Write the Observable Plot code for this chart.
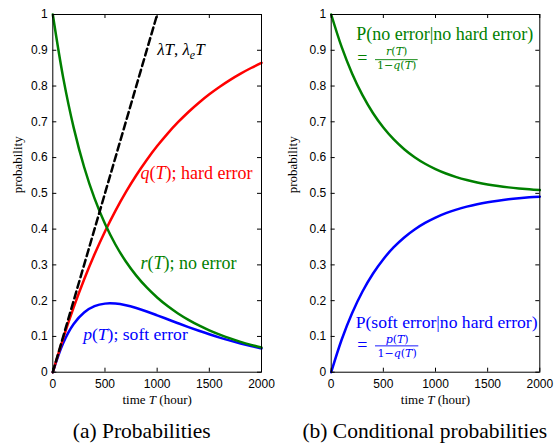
<!DOCTYPE html>
<html><head><meta charset="utf-8">
<script src="https://cdn.jsdelivr.net/npm/d3@7"></script>
<script src="https://cdn.jsdelivr.net/npm/@observablehq/plot@0.6"></script>
<style>
body{margin:0;background:#fff;}
#wrap{position:relative;width:555px;height:446px;overflow:hidden;background:#fff;}
.panel{position:absolute;top:0;}
.cap{position:absolute;top:421px;width:300px;text-align:center;font-family:"Liberation Serif","Times New Roman",serif;font-size:21.5px;line-height:21.5px;color:#000;white-space:nowrap;}
</style></head><body>
<div id="wrap">
  <div id="pa" class="panel" style="left:0"></div>
  <div id="pb" class="panel" style="left:275px"></div>
  <div class="cap" style="left:-8.3px">(a) Probabilities</div>
  <div class="cap" style="left:274.8px">(b) Conditional probabilities</div>
</div>
<script>
// time T (hour)
const hours = [0,100,200,300,400,500,600,700,800,900,1000,1100,1200,1300,1400,1500,1600,1700,1800,1900,2000];
// (a) probabilities
const rNoError   = [1,0.8228,0.6838,0.5737,0.4858,0.4148,0.3570,0.3095,0.2700,0.2369,0.2089,0.1849,0.1643,0.1464,0.1308,0.1171,0.1051,0.0944,0.0849,0.0765,0.0689];
const qHardError = [0,0.0952,0.1813,0.2592,0.3297,0.3935,0.4512,0.5034,0.5507,0.5934,0.6321,0.6671,0.6988,0.7275,0.7534,0.7769,0.7981,0.8173,0.8347,0.8504,0.8647];
const pSoftError = [0,0.0820,0.1349,0.1671,0.1845,0.1917,0.1918,0.1871,0.1793,0.1697,0.1590,0.1480,0.1369,0.1261,0.1158,0.1060,0.0968,0.0883,0.0804,0.0731,0.0664];
const lambdaHours = [0,1000];
const lambdaT     = [0,1];
// (b) conditional probabilities
const condNoError   = [1,0.9094,0.8352,0.7744,0.7247,0.6840,0.6506,0.6233,0.6010,0.5827,0.5677,0.5554,0.5454,0.5372,0.5304,0.5249,0.5204,0.5167,0.5137,0.5112,0.5092];
const condSoftError = [0,0.0906,0.1648,0.2256,0.2753,0.3160,0.3494,0.3767,0.3990,0.4173,0.4323,0.4446,0.4546,0.4628,0.4696,0.4751,0.4796,0.4833,0.4863,0.4888,0.4908];
// ticks
const xTicks = [0,500,1000,1500,2000];
const xTickLabels = ["0","500","1000","1500","2000"];
const yTicks = [0,0.1,0.2,0.3,0.4,0.5,0.6,0.7,0.8,0.9,1];
const yTickLabels = ["0","0.1","0.2","0.3","0.4","0.5","0.6","0.7","0.8","0.9","1"];

const GREEN = "#008000", RED = "#ff0000", BLUE = "#0000ff";
const SERIF = "Liberation Serif, Times New Roman, serif";
const WIDESERIF = "DejaVu Serif, serif";
const SANS = "Liberation Sans, Arial, Helvetica, sans-serif";

const zip = (xs, ys) => xs.map((t, i) => ({t, v: ys[i]}));

function addRich(svg, items) {
  d3.select(svg).selectAll("text").each(function() {
    const el = this;
    const txt = el.textContent;
    const it = items.find(a => a.parts.map(p => p[0]).join("") === txt);
    if (!it || el.querySelector("tspan")) return;
    el.textContent = "";
    let shifted = 0;
    for (const [s, st] of it.parts) {
      const ts = document.createElementNS("http://www.w3.org/2000/svg", "tspan");
      ts.textContent = s;
      if (st === "i") ts.setAttribute("font-style", "italic");
      if (st === "sub") {
        ts.setAttribute("font-style", "italic");
        ts.setAttribute("font-size", "70%");
        ts.setAttribute("dy", "4");
        shifted = 4;
      } else if (shifted) {
        ts.setAttribute("dy", String(-shifted));
        shifted = 0;
      }
      el.appendChild(ts);
    }
  });
}

function panel({width, marginLeft, marginRight, lines, notes, bars = []}) {
  const height = 410, marginTop = 14, marginBottom = 38.3;
  const innerW = width - marginLeft - marginRight;
  const innerH = height - marginTop - marginBottom;
  const xLabel = {parts: [["time "], ["T", "i"], [" (hour)"]]};
  const yLabel = {parts: [["probability"]]};
  const joined = a => a.parts.map(p => p[0]).join("");
  const marks = [
    ...lines.map(l => Plot.line(l.data, {x: "t", y: "v", stroke: l.color, strokeWidth: 2.5, strokeDasharray: l.dash, curve: "catmull-rom"})),
    Plot.tickY(yTicks, {y: d => d, insetRight: innerW - 4, stroke: "black"}),
    Plot.tickY(yTicks, {y: d => d, insetLeft: innerW - 4, stroke: "black"}),
    Plot.tickX(xTicks, {x: d => d, insetBottom: innerH - 4, stroke: "black"}),
    Plot.tickX(xTicks, {x: d => d, insetTop: innerH - 4, stroke: "black"}),
    Plot.frame({stroke: "black", strokeWidth: 1}),
    Plot.axisY(yTicks, {anchor: "left", tickSize: 0, tickPadding: 5, label: null, fontSize: 12,
      tickFormat: d => yTickLabels[yTicks.indexOf(d)]}),
    Plot.axisX(xTicks, {anchor: "bottom", tickSize: 0, tickPadding: 7.5, label: null, fontSize: 12,
      tickFormat: d => xTickLabels[xTicks.indexOf(d)]}),
    Plot.text([xLabel], {frameAnchor: "bottom", dy: 31.3, lineAnchor: "bottom", text: joined, fontFamily: SERIF, fontSize: 13, fill: "black"}),
    Plot.text([yLabel], {frameAnchor: "left", rotate: -90, dx: 21 - marginLeft, lineAnchor: "bottom", text: joined, fontFamily: SERIF, fontSize: 13, fill: "black"}),
    ...notes.map(a => Plot.text([a], {x: "t", y: "v", text: joined, fill: a.color, fontSize: a.size,
      textAnchor: a.anchor || "start", lineAnchor: "bottom", fontFamily: a.font || SERIF})),
    ...bars.map(b => Plot.ruleY([b], {y: "v", x1: "t1", x2: "t2", stroke: b.color, strokeWidth: 0.9}))
  ];
  const svg = Plot.plot({
    width, height, marginTop, marginBottom, marginLeft, marginRight,
    x: {type: "linear", domain: [0, 2000]},
    y: {type: "linear", domain: [0, 1]},
    style: {fontFamily: SANS, fontSize: "12px", background: "white", color: "black", overflow: "visible"},
    marks
  });
  addRich(svg, [xLabel, ...notes]);
  return svg;
}

const rParts = [["r", "i"], ["("], ["T", "i"], [")"]];
const pParts = [["p", "i"], ["("], ["T", "i"], [")"]];
const denParts = [["1−"], ["q", "i"], ["("], ["T", "i"], [")"]];

document.getElementById("pa").appendChild(panel({
  width: 275, marginLeft: 52.3, marginRight: 14,
  lines: [
    {data: zip(hours, pSoftError), color: BLUE},
    {data: zip(hours, qHardError), color: RED},
    {data: zip(hours, rNoError), color: GREEN},
    {data: zip(lambdaHours, lambdaT), color: "black", dash: "7,4"}
  ],
  notes: [
    {t: 1000, v: 0.886, color: "black", size: 17, parts: [["λ", "i"], ["T", "i"], [", "], ["λ", "i"], ["e", "sub"], ["T", "i"]]},
    {t: 840, v: 0.541, color: RED, size: 18, parts: [["q", "i"], ["("], ["T", "i"], ["); hard error"]]},
    {t: 840, v: 0.289, color: GREEN, size: 18, parts: [["r", "i"], ["("], ["T", "i"], ["); no error"]]},
    {t: 291, v: 0.0907, color: BLUE, size: 17.6, parts: [["p", "i"], ["("], ["T", "i"], ["); soft error"]]}
  ]
}));

document.getElementById("pb").appendChild(panel({
  width: 280, marginLeft: 55.7, marginRight: 15.7,
  lines: [
    {data: zip(hours, condSoftError), color: BLUE},
    {data: zip(hours, condNoError), color: GREEN}
  ],
  notes: [
    {t: 240, v: 0.9298, color: GREEN, size: 18, parts: [["P(no error|no hard error)"]]},
    {t: 250, v: 0.8626, color: GREEN, size: 18, parts: [["="]]},
    {t: 628, v: 0.8858, color: GREEN, size: 11, font: WIDESERIF, anchor: "middle", parts: rParts},
    {t: 628, v: 0.8466, color: GREEN, size: 11, font: WIDESERIF, anchor: "middle", parts: denParts},
    {t: 235, v: 0.1248, color: BLUE, size: 17.6, parts: [["P(soft error|no hard error)"]]},
    {t: 250, v: 0.0596, color: BLUE, size: 18, parts: [["= "]]},
    {t: 632, v: 0.0828, color: BLUE, size: 11, font: WIDESERIF, anchor: "middle", parts: pParts},
    {t: 632, v: 0.0436, color: BLUE, size: 11, font: WIDESERIF, anchor: "middle", parts: denParts}
  ],
  bars: [
    {t1: 425, t2: 834, v: 0.8738, color: GREEN},
    {t1: 425, t2: 840, v: 0.0736, color: BLUE}
  ]
}));
</script>
</body></html>
